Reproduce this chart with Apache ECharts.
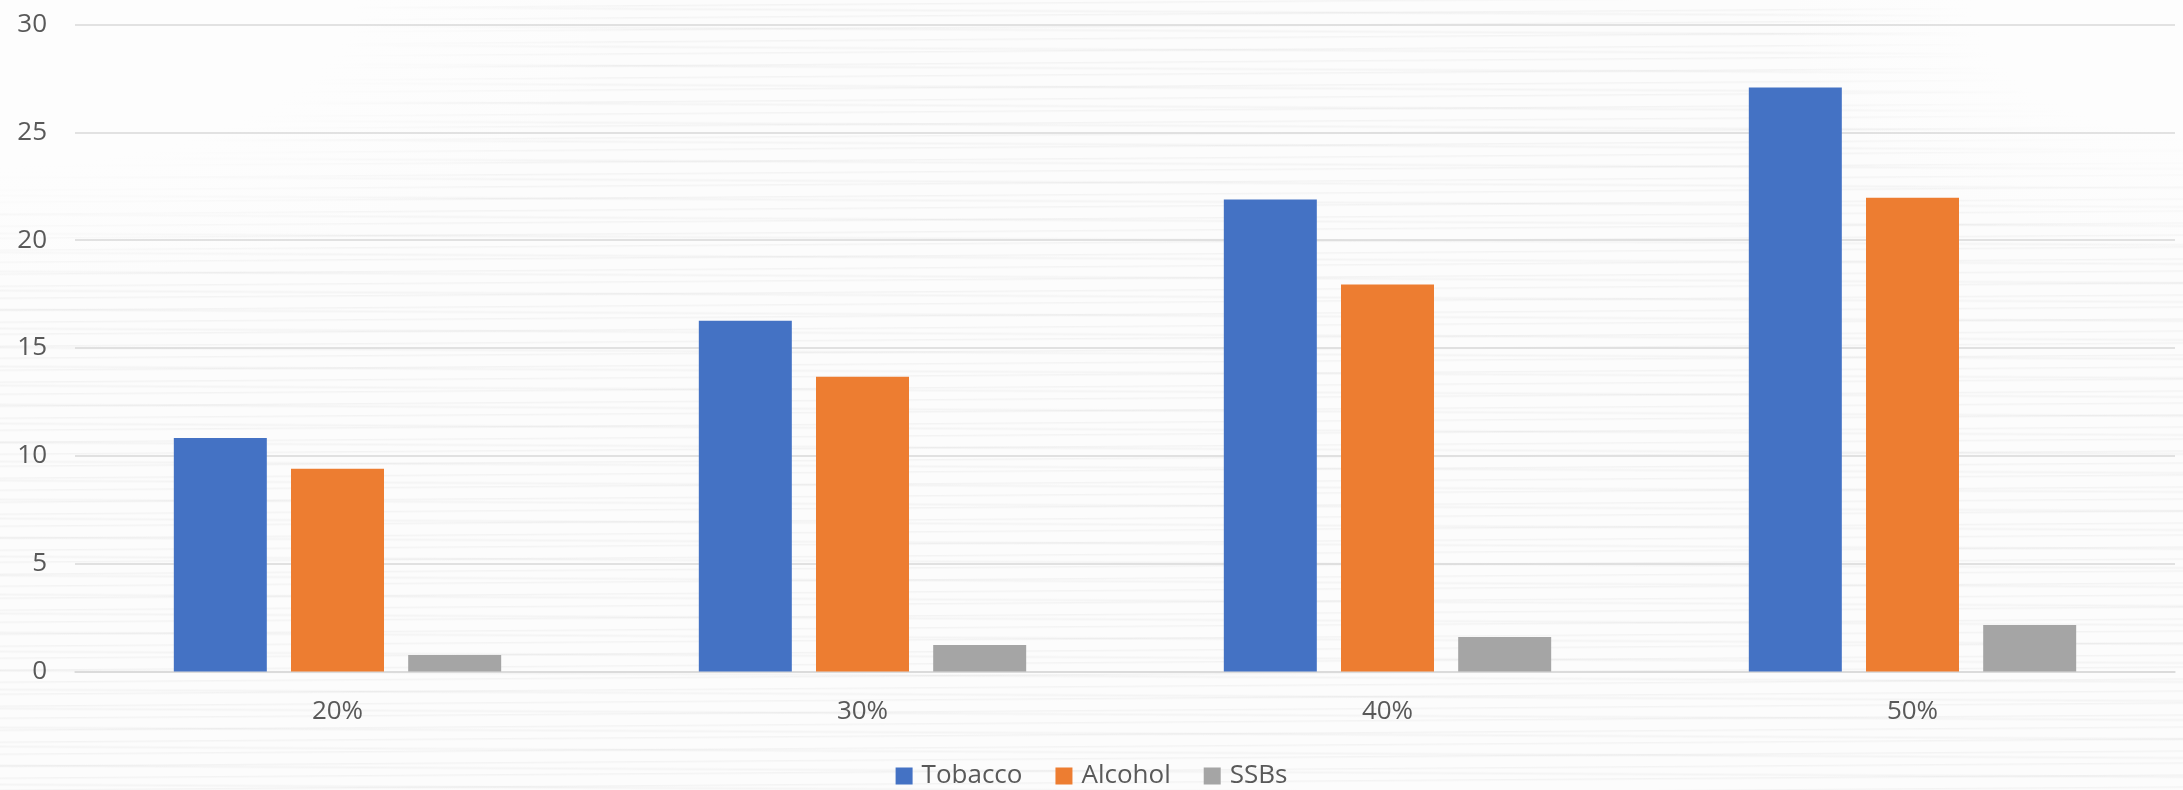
<!DOCTYPE html>
<html>
<head>
<meta charset="utf-8">
<script src="https://cdn.jsdelivr.net/npm/echarts@6/dist/echarts.min.js"></script>
<style>
  html, body { margin: 0; padding: 0; }
  body {
    width: 2183px; height: 790px; overflow: hidden;
    background-color: #fcfcfc;
    /* light streaked paper backdrop, clean towards the upper corners */
    background-image:
      radial-gradient(ellipse 640px 300px at 0 0, #fdfdfd 55%, rgba(253,253,253,0) 100%),
      radial-gradient(ellipse 420px 260px at 100% 0, #fdfdfd 50%, rgba(253,253,253,0) 100%),
      repeating-linear-gradient(179.6deg, rgba(0,0,0,0) 0px, rgba(0,0,0,0) 9px, rgba(0,0,0,0.035) 10px, rgba(0,0,0,0) 12px),
      repeating-linear-gradient(180.3deg, rgba(0,0,0,0) 0px, rgba(0,0,0,0) 15px, rgba(0,0,0,0.03) 17px, rgba(0,0,0,0) 19px);
  }
  #chart { width: 2183px; height: 790px; }
</style>
</head>
<body>
<div id="chart"></div>
<script>
// Price increase scenarios
const categories = ['20%', '30%', '40%', '50%'];

// Values per product group
const tobacco = [10.83, 16.26, 21.88, 27.08];
const alcohol = [9.40, 13.67, 17.94, 21.97];
const ssbs    = [0.77, 1.23, 1.60, 2.16];

const seriesNames = ['Tobacco', 'Alcohol', 'SSBs'];
const seriesColors = ['#4472C4', '#ED7D31', '#A5A5A5'];

const textColor = '#595959';
const fontFamily = '"Open Sans", "Liberation Sans", sans-serif';

const chart = echarts.init(document.getElementById('chart'), null, { renderer: 'canvas' });

const barSeries = [tobacco, alcohol, ssbs].map((values, i) => ({
  name: seriesNames[i],
  type: 'bar',
  data: values,
  barWidth: 93,
  barGap: '26%',
  itemStyle: { color: seriesColors[i] },
  emphasis: { disabled: true }
}));

chart.setOption({
  backgroundColor: 'transparent',
  animation: false,
  textStyle: { fontFamily: fontFamily },
  grid: { left: 75, right: 8, top: 24.5, bottom: 118.5, containLabel: false },
  legend: {
    data: seriesNames,
    left: 'center',
    top: 759,
    padding: 0,
    icon: 'rect',
    itemWidth: 17,
    itemHeight: 17,
    itemGap: 33,
    textStyle: { color: textColor, fontSize: 26, lineHeight: 34, fontFamily: fontFamily, padding: [0, 0, 0, 4] }
  },
  xAxis: {
    type: 'category',
    data: categories,
    axisLine: { show: true, lineStyle: { color: '#d9d9d9', width: 1.5 } },
    axisTick: { show: false },
    axisLabel: { color: textColor, fontSize: 26, margin: 27, fontFamily: fontFamily }
  },
  yAxis: {
    type: 'value',
    min: 0,
    max: 30,
    interval: 5,
    axisLine: { show: false },
    axisTick: { show: false },
    axisLabel: { color: textColor, fontSize: 26, margin: 28, fontFamily: fontFamily },
    splitLine: { lineStyle: { color: '#d9d9d9', width: 1.5 } }
  },
  series: barSeries
});
</script>
</body>
</html>
